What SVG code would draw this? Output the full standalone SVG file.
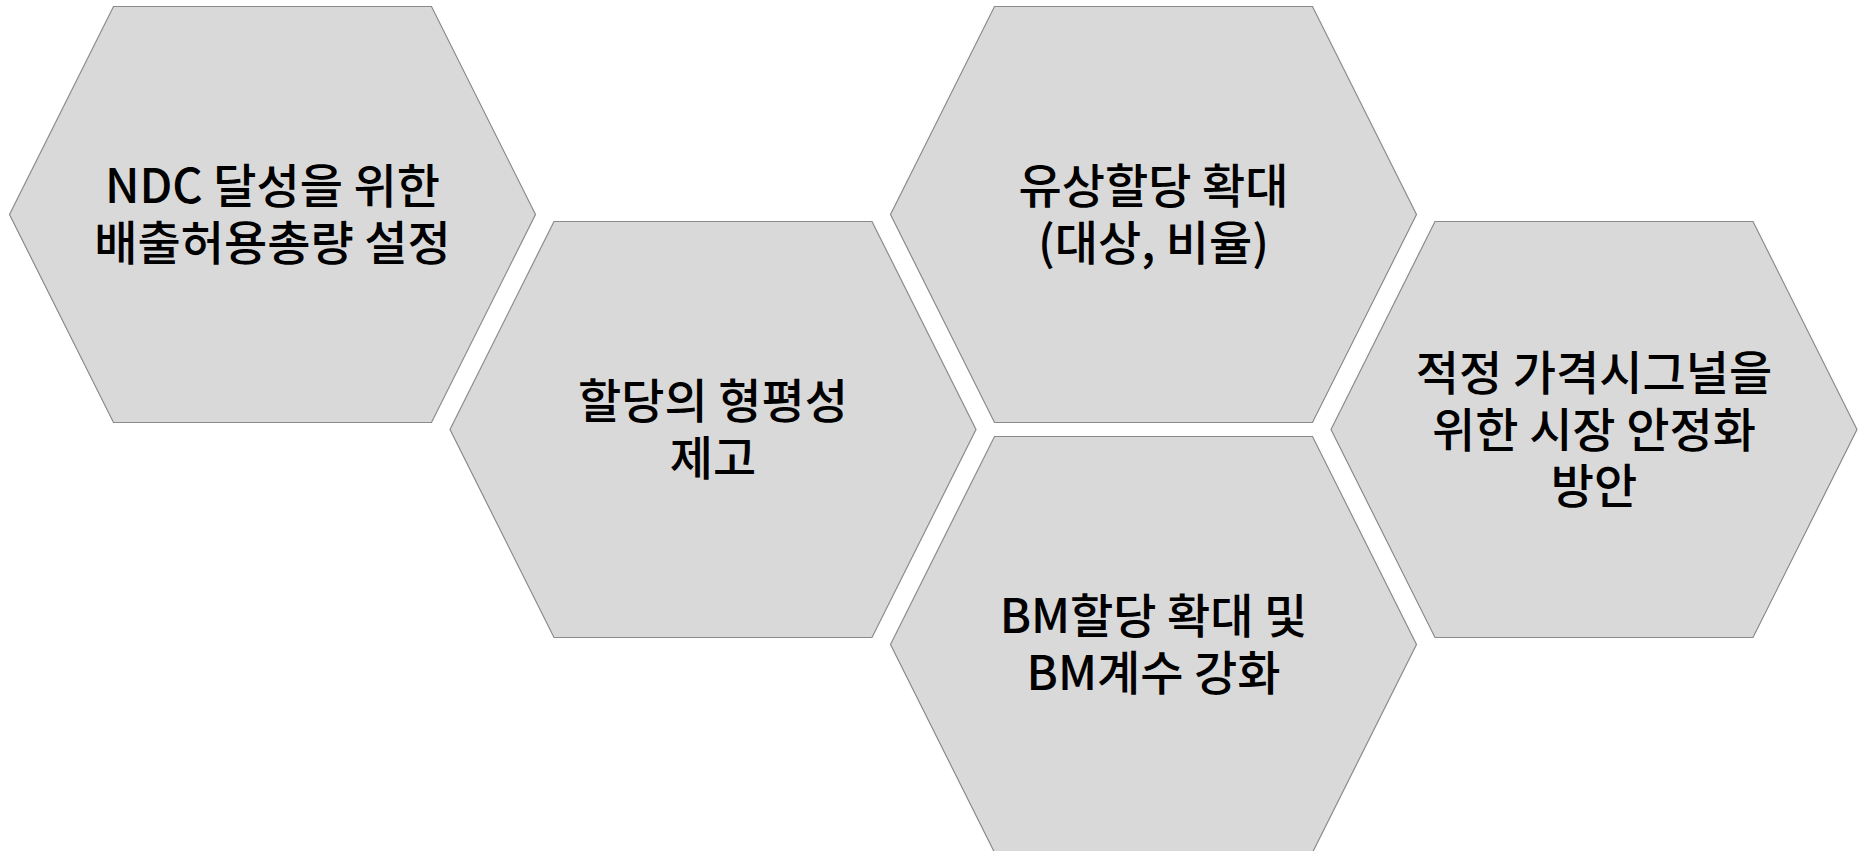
<svg xmlns="http://www.w3.org/2000/svg" width="1858" height="851" viewBox="0 0 1858 851">
  <style>
    .hex { fill: #d9d9d9; stroke: #8a8a8a; stroke-width: 1.2; }
    .lbl { font-family: "Noto Sans CJK KR", "Noto Sans", sans-serif; font-size: 47px; font-weight: 500; fill: #000000; text-anchor: middle; }
  </style>
  <defs>
    <polygon id="hexshape" points="0,208 104,0 422,0 526,208 422,416 104,416"/>
  </defs>
  <rect x="0" y="0" width="1858" height="851" fill="#ffffff"/>
  <g id="connectors"></g>
  <g id="node1">
    <use href="#hexshape" class="hex" x="9.5" y="6.5"/>
    <text class="lbl" x="272.5" y="203">NDC 달성을 위한</text>
    <text class="lbl" x="272.5" y="260">배출허용총량 설정</text>
  </g>
  <g id="node2">
    <use href="#hexshape" class="hex" x="450" y="221.5"/>
    <text class="lbl" x="713" y="418">할당의 형평성</text>
    <text class="lbl" x="713" y="475">제고</text>
  </g>
  <g id="node3">
    <use href="#hexshape" class="hex" x="890.5" y="6.5"/>
    <text class="lbl" x="1153.5" y="203">유상할당 확대</text>
    <text class="lbl" x="1153.5" y="260">(대상, 비율)</text>
  </g>
  <g id="node4">
    <use href="#hexshape" class="hex" x="890.5" y="436.5"/>
    <text class="lbl" x="1153.5" y="633">BM할당 확대 및</text>
    <text class="lbl" x="1153.5" y="690">BM계수 강화</text>
  </g>
  <g id="node5">
    <use href="#hexshape" class="hex" x="1331" y="221.5"/>
    <text class="lbl" x="1594" y="390">적정 가격시그널을</text>
    <text class="lbl" x="1594" y="446.5">위한 시장 안정화</text>
    <text class="lbl" x="1594" y="503">방안</text>
  </g>
</svg>
